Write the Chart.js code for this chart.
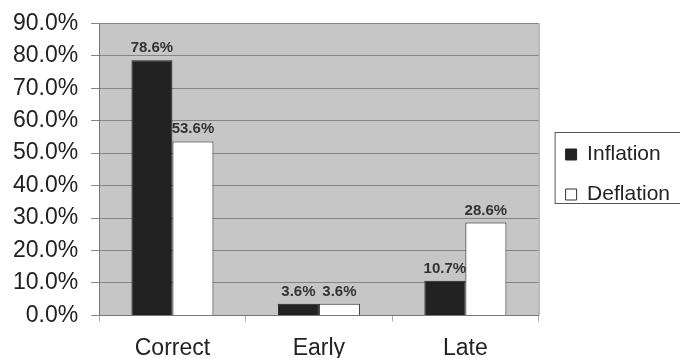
<!DOCTYPE html>
<html>
<head>
<meta charset="utf-8">
<script src="https://cdn.jsdelivr.net/npm/chart.js@4/dist/chart.umd.min.js"></script>
<style>
    html, body { margin: 0; padding: 0; background: #fff; }
    #wrap { width: 680px; height: 358px; }
</style>
</head>
<body>
<div id="wrap"><canvas id="timingChart" width="680" height="358"></canvas></div>
<script>
// chart data
const categories = ['Correct', 'Early', 'Late'];
const inflation = [78.6, 3.6, 10.7];
const deflation = [53.6, 3.6, 28.6];
const yTicks = [0, 10, 20, 30, 40, 50, 60, 70, 80, 90];

const FONT = "'Liberation Sans', Arial, sans-serif";

// grey plot area, legend nudge + legend border
const plotBackground = {
    id: 'plotBackground',
    afterLayout(chart) {
        // legend sits a little right of / above where the default layout puts it
        chart.legend.left += 8;
        chart.legend.right += 8;
        chart.legend.top -= 15;
        chart.legend.bottom -= 15;
    },
    beforeDraw(chart) {
        const { ctx, chartArea: a } = chart;
        ctx.save();
        ctx.fillStyle = '#c6c6c6';
        ctx.fillRect(a.left, a.top, a.right - a.left, a.bottom - a.top);
        ctx.strokeStyle = '#8a8a8a';
        ctx.lineWidth = 1;
        ctx.beginPath();
        ctx.moveTo(a.right + 0.5, a.top);
        ctx.lineTo(a.right + 0.5, a.bottom);
        ctx.stroke();
        ctx.restore();
    },
    afterDraw(chart) {
        const lg = chart.legend;
        const ctx = chart.ctx;
        ctx.save();
        ctx.strokeStyle = '#555';
        ctx.lineWidth = 1;
        ctx.strokeRect(lg.left + 8.5, 132.5, 140, 71);
        ctx.restore();
    }
};

// values above bars
const barLabels = {
    id: 'barLabels',
    afterDatasetsDraw(chart) {
        const ctx = chart.ctx;
        ctx.save();
        ctx.font = 'bold 15px ' + FONT;
        ctx.fillStyle = '#333';
        ctx.textAlign = 'center';
        ctx.textBaseline = 'alphabetic';
        chart.data.datasets.forEach(function(ds, i) {
            chart.getDatasetMeta(i).data.forEach(function(bar, j) {
                ctx.fillText(ds.data[j].toFixed(1) + '%', bar.x, bar.y - 8);
            });
        });
        ctx.restore();
    }
};

const ctx = document.getElementById('timingChart').getContext('2d');
new Chart(ctx, {
    type: 'bar',
    data: {
        labels: categories,
        datasets: [{
            label: 'Inflation',
            data: inflation,
            backgroundColor: '#222222',
            borderColor: '#222222',
            borderWidth: 1
        }, {
            label: 'Deflation',
            data: deflation,
            backgroundColor: '#ffffff',
            borderColor: '#333333',
            borderWidth: 1
        }]
    },
    options: {
        responsive: false,
        animation: false,
        layout: { padding: { top: 4, left: 0, right: 8, bottom: -17 } },
        datasets: {
            bar: { categoryPercentage: 0.56, barPercentage: 1.0 }
        },
        plugins: {
            tooltip: { enabled: false },
            legend: {
                position: 'right',
                align: 'center',
                labels: {
                    boxWidth: 11,
                    boxHeight: 11,
                    padding: 19,
                    color: '#222',
                    font: { family: FONT, size: 21 }
                }
            }
        },
        scales: {
            x: {
                grid: {
                    offset: true,
                    drawOnChartArea: false,
                    tickLength: 6,
                    color: '#aaa'
                },
                border: { color: '#777' },
                ticks: {
                    padding: 13,
                    color: '#222',
                    font: { family: FONT, size: 23 }
                }
            },
            y: {
                min: 0,
                max: 90,
                afterBuildTicks(scale) {
                    scale.ticks = yTicks.map(v => ({ value: v }));
                },
                grid: {
                    color: '#858585',
                    tickLength: 8
                },
                border: { color: '#777' },
                ticks: {
                    padding: 13,
                    color: '#222',
                    font: { family: FONT, size: 23, lineHeight: 0.9 },
                    callback: v => v.toFixed(1) + '%'
                }
            }
        }
    },
    plugins: [plotBackground, barLabels]
});
</script>
</body>
</html>
